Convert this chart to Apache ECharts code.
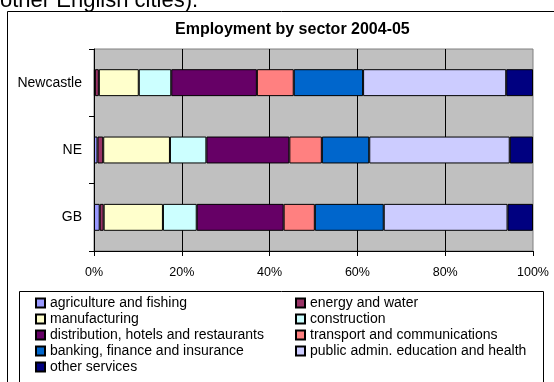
<!DOCTYPE html>
<html>
<head>
<meta charset="utf-8">
<script src="https://cdn.jsdelivr.net/npm/echarts@6/dist/echarts.min.js"></script>
<style>
	html, body { margin: 0; padding: 0; background: #fff; }
	#chart { width: 554px; height: 382px; }
</style>
</head>
<body>
<div id="chart"></div>
<script>
// places, top to bottom
const places = ["Newcastle", "NE", "GB"]

// share of employment (%), same order as places
const agriculture = [0.2, 0.8, 1.3]
const energy = [0.9, 1.3, 0.9]
const manufacturing = [9.1, 15.2, 13.5]
const construction = [7.4, 8.3, 7.7]
const distribution = [19.5, 18.9, 19.8]
const transport = [8.4, 7.4, 7.1]
const banking = [15.8, 10.8, 15.7]
const publicAdmin = [32.6, 32.0, 28.2]
const otherServices = [6.1, 5.3, 5.8]

const xTicks = [0, 20, 40, 60, 80, 100]

const sectors = [
	{ name: "agriculture and fishing", data: agriculture, color: "#9999FF" },
	{ name: "energy and water", data: energy, color: "#993366" },
	{ name: "manufacturing", data: manufacturing, color: "#FFFFCC" },
	{ name: "construction", data: construction, color: "#CCFFFF" },
	{ name: "distribution, hotels and restaurants", data: distribution, color: "#660066" },
	{ name: "transport and communications", data: transport, color: "#FF8080" },
	{ name: "banking, finance and insurance", data: banking, color: "#0066CC" },
	{ name: "public admin. education and health", data: publicAdmin, color: "#CCCCFF" },
	{ name: "other services", data: otherServices, color: "#000080" },
]

const font = "'Liberation Sans', Arial, sans-serif"

const chart = echarts.init(document.getElementById("chart"), null, { renderer: "canvas" })

const legendText = { fontFamily: font, fontSize: 14, color: "#000", lineHeight: 14 }

const options = {
	animation: false,
	backgroundColor: "#fff",
	title: {
		text: "Employment by sector 2004-05",
		left: 175,
		top: 22,
		padding: 0,
		textStyle: { fontFamily: font, fontSize: 16, fontWeight: "bold", color: "#000" },
	},
	graphic: [
		{
			type: "text",
			x: 0,
			y: -10,
			style: { text: "other English cities).", font: "22px " + font, fill: "#000", verticalAlign: "top" },
		},
		{
			type: "rect",
			shape: { x: 7.5, y: 11.5, width: 560, height: 400 },
			style: { fill: "none", stroke: "#000", lineWidth: 1 },
			z: -1,
		},
		{
			type: "rect",
			shape: { x: 19.5, y: 291.5, width: 524, height: 120 },
			style: { fill: "none", stroke: "#000", lineWidth: 1 },
		},
	],
	legend: [
		{
			orient: "vertical",
			left: 35,
			top: 296,
			padding: 0,
			itemGap: 2,
			itemWidth: 9,
			itemHeight: 9,
			icon: "rect",
			textStyle: legendText,
			data: [sectors[0].name, sectors[2].name, sectors[4].name, sectors[6].name, sectors[8].name],
		},
		{
			orient: "vertical",
			left: 295,
			top: 296,
			padding: 0,
			itemGap: 2,
			itemWidth: 9,
			itemHeight: 9,
			icon: "rect",
			textStyle: legendText,
			data: [sectors[1].name, sectors[3].name, sectors[5].name, sectors[7].name],
		},
	],
	grid: {
		left: 94,
		right: 21,
		top: 49,
		bottom: 131,
		show: true,
		backgroundColor: "#C0C0C0",
		borderColor: "#808080",
		borderWidth: 1,
	},
	xAxis: {
		type: "value",
		min: xTicks[0],
		max: xTicks[xTicks.length - 1],
		interval: xTicks[1] - xTicks[0],
		axisLine: { show: true, lineStyle: { color: "#000", width: 1 } },
		axisTick: { show: true, length: 5, lineStyle: { color: "#000" } },
		axisLabel: {
			formatter: "{value}%",
			margin: 15,
			fontFamily: font,
			fontSize: 12.5,
			color: "#000",
		},
		splitLine: { show: true, showMinLine: false, showMaxLine: false, lineStyle: { color: "#000", width: 1 } },
	},
	yAxis: {
		type: "category",
		inverse: true,
		data: places,
		axisLine: { show: true, lineStyle: { color: "#000", width: 1 } },
		axisTick: { show: true, length: 5, lineStyle: { color: "#000" } },
		axisLabel: { margin: 12, fontFamily: font, fontSize: 14, color: "#000" },
		splitLine: { show: false },
	},
	series: sectors.map((s) => ({
		name: s.name,
		type: "bar",
		stack: "total",
		barCategoryGap: "60%",
		data: s.data,
		itemStyle: { color: s.color, borderColor: "#000", borderWidth: 1 },
		emphasis: { disabled: true },
	})),
}

chart.setOption(options)
</script>
</body>
</html>
